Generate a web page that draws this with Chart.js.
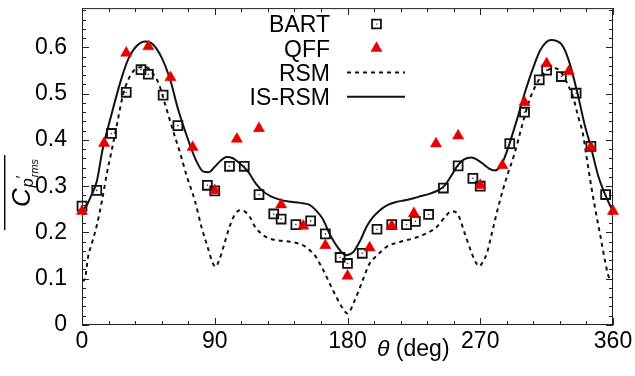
<!DOCTYPE html>
<html>
<head>
<meta charset="utf-8">
<script src="https://cdn.jsdelivr.net/npm/chart.js@4.4.0/dist/chart.umd.min.js"></script>
<style>
  html, body { margin: 0; padding: 0; background: #fff; }
  #grafico { display: block; }
</style>
</head>
<body>
<canvas id="grafico" width="635" height="376"></canvas>
<script>
// eixos
const xTicks = [0, 90, 180, 270, 360];
const yTicks = [0, 0.1, 0.2, 0.3, 0.4, 0.5, 0.6];

// BART (quadrados)
const bartTheta = [0, 10, 20, 30, 40, 45, 55, 65, 85, 90, 100, 110, 120, 130, 135, 145, 155, 165, 175, 180,
  190, 200, 210, 220, 226, 235, 245, 255, 265, 270, 290, 300, 310, 315, 325, 335, 345, 355];
const bartCp = [0.257, 0.291, 0.414, 0.503, 0.552, 0.542, 0.497, 0.431, 0.302, 0.29, 0.343, 0.343, 0.282, 0.240,
  0.229, 0.217, 0.225, 0.197, 0.146, 0.133, 0.155, 0.207, 0.217, 0.217, 0.224, 0.239, 0.296, 0.344, 0.317, 0.30,
  0.392, 0.460, 0.530, 0.551, 0.537, 0.501, 0.386, 0.282];

// QFF (triangulos)
const qffTheta = [0, 15, 30, 45, 60, 75, 90, 105, 120, 135, 150, 165, 180, 195, 210, 225, 240, 255, 270, 285,
  300, 315, 330, 345, 360];
const qffCp = [0.246, 0.393, 0.588, 0.602, 0.535, 0.384, 0.291, 0.402, 0.425, 0.260, 0.214, 0.172, 0.106, 0.167,
  0.214, 0.241, 0.392, 0.409, 0.302, 0.345, 0.481, 0.565, 0.548, 0.384, 0.246];

// RSM (tracejado)
const rsmTheta = [0, 2, 4, 7, 10, 13.5, 17, 20, 23.5, 28, 33.5, 39, 43, 47, 52, 56, 62, 66.5, 71, 76.5, 81, 85.5,
  88.5, 90.5, 93, 96, 100, 103.5, 107, 110, 113.5, 117, 122.5, 128, 135, 141, 150, 155, 158, 163.5, 170, 176, 180,
  185, 189.5, 195, 200, 206.5, 216, 224.5, 233.5, 240.5, 246, 250.5, 255, 259.5, 264, 267, 269.5, 272, 274.5, 278,
  283, 288.5, 293, 298, 302.5, 307, 312, 317, 321, 325, 329, 333, 336.5, 339.5, 342, 345.5, 349, 352, 354.5, 357, 360];
const rsmCp = [0.095, 0.10, 0.145, 0.18, 0.215, 0.268, 0.33, 0.375, 0.43, 0.50, 0.543, 0.557, 0.558, 0.548, 0.522,
  0.481, 0.417, 0.372, 0.322, 0.269, 0.212, 0.165, 0.135, 0.126, 0.140, 0.170, 0.212, 0.238, 0.248, 0.246, 0.235,
  0.214, 0.195, 0.186, 0.182, 0.180, 0.172, 0.160, 0.150, 0.119, 0.076, 0.040, 0.025, 0.054, 0.090, 0.133, 0.150,
  0.169, 0.180, 0.187, 0.198, 0.212, 0.233, 0.246, 0.238, 0.198, 0.157, 0.135, 0.127, 0.138, 0.155, 0.200, 0.265,
  0.325, 0.368, 0.427, 0.478, 0.514, 0.540, 0.553, 0.555, 0.545, 0.522, 0.492, 0.449, 0.415, 0.365, 0.295, 0.233,
  0.183, 0.140, 0.105, 0.095];

// IS-RSM (continua)
const isrsmTheta = [0, 3, 6, 10, 14, 20, 26, 31, 37, 43, 48, 54, 60, 65, 71, 77, 82, 86, 90, 94, 98, 102, 106, 112,
  118, 122, 128, 134, 140, 148, 154, 158, 163, 169, 175, 179, 184, 189, 193, 197, 202, 207, 213, 220, 228, 236, 242,
  246, 251, 255, 259, 264, 268, 272, 276, 280, 283, 286, 289, 295, 300, 306, 311, 318, 325, 330, 336, 341, 345, 350,
  354, 357, 360];
const isrsmCp = [0.248, 0.258, 0.278, 0.31, 0.38, 0.455, 0.525, 0.572, 0.603, 0.613, 0.607, 0.578, 0.528, 0.468,
  0.409, 0.358, 0.332, 0.330, 0.342, 0.355, 0.363, 0.361, 0.352, 0.334, 0.305, 0.291, 0.278, 0.271, 0.267, 0.264,
  0.260, 0.250, 0.230, 0.190, 0.161, 0.151, 0.158, 0.185, 0.213, 0.232, 0.248, 0.259, 0.266, 0.270, 0.277, 0.284,
  0.292, 0.302, 0.326, 0.346, 0.358, 0.362, 0.357, 0.348, 0.338, 0.334, 0.340, 0.358, 0.384, 0.445, 0.500, 0.557,
  0.596, 0.616, 0.607, 0.572, 0.500, 0.430, 0.385, 0.322, 0.287, 0.265, 0.246];

const fonte = '"Liberation Sans", Arial, Helvetica, sans-serif';
const vermelho = '#e60000';

function pares(xs, ys) {
  return xs.map((t, i) => ({ x: t, y: ys[i] }));
}

// moldura + marcas internas (principais e secundarias)
const moldura = {
  id: 'moldura',
  beforeDatasetsDraw(chart) {
    const { ctx, chartArea: a, scales: { x, y } } = chart;
    ctx.save();
    ctx.strokeStyle = '#222';
    ctx.lineWidth = 1;
    ctx.strokeRect(a.left + 0.5, a.top + 0.5, a.width - 1, a.height - 1);
    ctx.beginPath();
    for (let t = 0; t <= 360; t += 18) {
      const px = Math.round(x.getPixelForValue(t)) + 0.5;
      const len = t % 90 === 0 ? 7 : 4;
      ctx.moveTo(px, a.bottom);
      ctx.lineTo(px, a.bottom - len);
      ctx.moveTo(px, a.top);
      ctx.lineTo(px, a.top + len);
    }
    for (let i = 0; i <= 34; i++) {
      const py = Math.round(y.getPixelForValue(i * 0.02)) + 0.5;
      const len = i % 5 === 0 ? 7 : 4;
      ctx.moveTo(a.left, py);
      ctx.lineTo(a.left + len, py);
      ctx.moveTo(a.right, py);
      ctx.lineTo(a.right - len, py);
    }
    ctx.stroke();
    ctx.restore();
  }
};

// legenda, titulo do eixo x e do eixo y
const textos = {
  id: 'textos',
  afterDraw(chart) {
    const { ctx } = chart;
    const ds = chart.data.datasets;
    ctx.save();

    // legenda
    const linhas = [
      { i: 0, y: 24 },
      { i: 1, y: 48.3 },
      { i: 2, y: 72.5 },
      { i: 3, y: 96.7 }
    ];
    ctx.font = '23px ' + fonte;
    ctx.textAlign = 'right';
    ctx.textBaseline = 'alphabetic';
    linhas.forEach((l) => {
      const d = ds[l.i];
      ctx.fillStyle = '#000';
      ctx.fillText(d.label, 330, l.y + 8.2);
      if (d.showLine) {
        ctx.save();
        ctx.strokeStyle = d.borderColor;
        ctx.lineWidth = d.borderWidth;
        ctx.setLineDash(d.borderDash || []);
        ctx.beginPath();
        ctx.moveTo(347, l.y);
        ctx.lineTo(405, l.y);
        ctx.stroke();
        ctx.restore();
      } else {
        ctx.save();
        ctx.fillStyle = d.pointBackgroundColor;
        ctx.strokeStyle = d.pointBorderColor;
        ctx.lineWidth = d.pointBorderWidth;
        Chart.helpers.drawPoint(ctx, {
          pointStyle: d.pointStyle,
          radius: d.pointRadius,
          borderWidth: d.pointBorderWidth
        }, 376.5, l.y);
        ctx.restore();
        if (d.pointStyle === 'rect') {
          ctx.fillStyle = '#333';
          ctx.fillRect(376, l.y - 0.5, 1.2, 1.2);
        }
      }
    });

    // titulo eixo x
    ctx.fillStyle = '#000';
    ctx.textAlign = 'left';
    ctx.font = 'italic 23px ' + fonte;
    ctx.fillText('\u03b8', 377, 356);
    const wt = ctx.measureText('\u03b8').width;
    ctx.font = '23px ' + fonte;
    ctx.fillText(' (deg)', 377 + wt, 356);

    // titulo eixo y (rotacionado)
    ctx.translate(0, 207);
    ctx.rotate(-Math.PI / 2);
    ctx.font = 'italic 26px ' + fonte;
    ctx.fillText('C', 0, 30);
    const wc = ctx.measureText('C').width;
    ctx.font = 'italic 16px ' + fonte;
    ctx.fillText('p', wc + 1, 33);
    ctx.font = '14px ' + fonte;
    ctx.fillText('\u2032', wc + 10, 26);
    ctx.font = 'italic 11px ' + fonte;
    ctx.fillText('rms', wc + 11, 38);
    ctx.fillRect(-23, 4, 75, 1.4);
    ctx.restore();
  }
};

new Chart(document.getElementById('grafico'), {
  type: 'scatter',
  data: {
    datasets: [
      {
        label: 'BART',
        data: pares(bartTheta, bartCp),
        pointStyle: 'rect',
        pointRadius: 6.3,
        pointHoverRadius: 6.3,
        pointBorderWidth: 1.8,
        pointBorderColor: '#111',
        pointBackgroundColor: 'rgba(255,255,255,0)',
        showLine: false,
        clip: false,
        order: 2
      },
      {
        label: 'QFF',
        data: pares(qffTheta, qffCp),
        pointStyle: 'triangle',
        pointRadius: 6.5,
        pointHoverRadius: 6.5,
        pointBorderWidth: 0.5,
        pointBorderColor: vermelho,
        pointBackgroundColor: vermelho,
        showLine: false,
        clip: false,
        order: 0
      },
      {
        label: 'RSM',
        data: pares(rsmTheta, rsmCp),
        showLine: true,
        borderColor: '#111',
        borderWidth: 2,
        borderDash: [4, 4],
        pointRadius: 0,
        cubicInterpolationMode: 'monotone',
        order: 4
      },
      {
        label: 'IS-RSM',
        data: pares(isrsmTheta, isrsmCp),
        showLine: true,
        borderColor: '#111',
        borderWidth: 2,
        pointRadius: 0,
        cubicInterpolationMode: 'monotone',
        order: 3
      },
      {
        label: 'BART centro',
        data: pares(bartTheta, bartCp),
        pointStyle: 'circle',
        pointRadius: 0.8,
        pointBorderWidth: 0,
        pointBackgroundColor: '#333',
        showLine: false,
        clip: false,
        order: 1
      }
    ]
  },
  options: {
    responsive: false,
    animation: false,
    devicePixelRatio: 1,
    layout: { padding: { left: 0, right: 22, top: 7, bottom: 0 } },
    plugins: {
      legend: { display: false },
      title: { display: false },
      tooltip: { enabled: false }
    },
    scales: {
      x: {
        type: 'linear',
        min: 0,
        max: 360,
        afterBuildTicks: (s) => { s.ticks = xTicks.map((v) => ({ value: v })); },
        afterFit: (s) => { s.height = 51; s.paddingLeft = 0; s.paddingRight = 0; },
        grid: { display: false, drawTicks: false },
        border: { display: false },
        ticks: {
          color: '#000',
          font: { family: fonte, size: 23 },
          padding: 3,
          maxRotation: 0,
          autoSkip: false,
          callback: (v) => String(v)
        }
      },
      y: {
        type: 'linear',
        min: 0,
        max: 0.685,
        afterBuildTicks: (s) => { s.ticks = yTicks.map((v) => ({ value: v })); },
        afterFit: (s) => { s.width = 82; s.paddingTop = 0; s.paddingBottom = 0; },
        grid: { display: false, drawTicks: false },
        border: { display: false },
        ticks: {
          color: '#000',
          font: { family: fonte, size: 23 },
          padding: 15,
          autoSkip: false,
          callback: (v) => String(Math.round(v * 10) / 10)
        }
      }
    }
  },
  plugins: [moldura, textos]
});
</script>
</body>
</html>
